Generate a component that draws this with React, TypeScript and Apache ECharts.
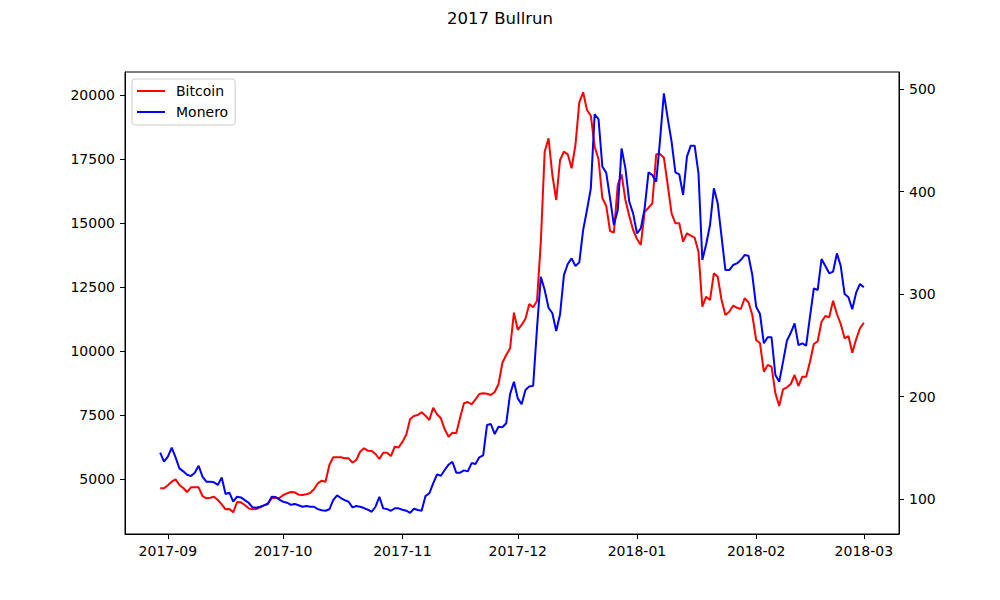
import React, { useEffect, useRef } from "react";
import * as echarts from "echarts";

const TITLE = "2017 Bullrun";
const START_DATE = "2017-08-30";
const SERIES_NAMES = ["Bitcoin", "Monero"];

const bitcoin = [
  4636, 4636, 4754, 4895, 4988, 4766, 4648, 4492, 4674, 4674,
  4674, 4336, 4245, 4271, 4310, 4180, 4010, 3815, 3828, 3698,
  4102, 4089, 3984, 3854, 3815, 3828, 3893, 3971, 4049, 4245,
  4270, 4260, 4375, 4441, 4492, 4480, 4387, 4375, 4402, 4453,
  4598, 4832, 4934, 4895, 5547, 5848, 5848, 5848, 5809, 5809,
  5637, 5742, 6066, 6199, 6105, 6094, 5977, 5781, 6027, 6027,
  5898, 6260, 6230, 6450, 6730, 7344, 7461, 7500, 7605, 7473,
  7305, 7785, 7527, 7371, 6941, 6652, 6809, 6785, 7395, 7957,
  8008, 7918, 8113, 8320, 8348, 8332, 8281, 8398, 8711, 9543,
  9844, 10105, 11496, 10830, 11016, 11260, 11836, 11707, 11953, 14270,
  17785, 18309, 16875, 15898, 17461, 17785, 17683, 17137, 18047, 19715,
  20105, 19414, 19191, 17980, 17500, 15965, 15676, 14688, 14621, 16484,
  16902, 15898, 15273, 14727, 14375, 14141, 15441, 15598, 15770, 17683,
  17695, 17551, 16484, 15379, 14988, 14988, 14270, 14598, 14504, 14426,
  13879, 11730, 12121, 11992, 13035, 12902, 11992, 11406, 11535, 11770,
  11691, 11641, 12059, 11902, 11406, 10430, 10301, 9191, 9453, 9387,
  8348, 7852, 8504, 8582, 8711, 9063, 8633, 8996, 8996, 9582,
  10273, 10379, 11145, 11367, 11316, 11965, 11445, 11055, 10496, 10586,
  9934, 10457, 10887, 11105,
];

const monero = [
  145.2, 136.4, 141.3, 150.1, 140.7, 129.9, 127.0, 123.7, 122.4, 125.7,
  132.5, 121.8, 116.9, 116.9, 116.3, 113.7, 121.1, 104.9, 106.2, 97.4,
  102.3, 101.6, 99.0, 96.4, 91.9, 91.5, 92.5, 93.8, 95.1, 102.3,
  102.0, 99.5, 97.3, 96.4, 94.4, 95.1, 93.9, 92.5, 93.2, 92.5,
  92.5, 90.2, 89.0, 88.6, 90.0, 99.0, 103.6, 101.0, 99.0, 97.4,
  91.9, 93.2, 92.5, 91.2, 89.6, 87.6, 92.5, 102.2, 90.9, 90.2,
  88.6, 90.9, 90.9, 89.6, 88.6, 86.6, 90.5, 89.3, 88.6, 102.9,
  105.6, 115.3, 124.1, 122.7, 128.3, 133.5, 136.4, 125.7, 125.7, 128.0,
  127.0, 135.1, 134.1, 140.7, 142.6, 172.2, 173.2, 163.4, 170.5, 170.0,
  173.9, 202.4, 214.4, 198.2, 192.4, 206.3, 209.9, 210.5, 266.5, 316.9,
  303.9, 286.6, 281.2, 263.9, 280.2, 318.5, 329.3, 334.8, 327.3, 330.9,
  362.4, 382.0, 403.1, 475.3, 470.7, 424.2, 418.4, 393.4, 367.3, 382.0,
  442.1, 422.6, 390.0, 378.7, 359.2, 364.1, 383.6, 418.7, 416.1, 409.6,
  450.2, 495.8, 471.4, 448.6, 418.7, 416.8, 396.6, 434.0, 444.7, 444.7,
  417.8, 333.2, 348.5, 367.3, 403.1, 388.5, 355.9, 323.4, 323.4, 328.3,
  329.9, 333.2, 338.0, 337.4, 318.5, 287.6, 280.5, 251.9, 257.8, 257.8,
  221.0, 214.4, 234.0, 254.4, 262.2, 271.4, 250.2, 251.9, 249.6, 277.9,
  305.6, 303.9, 334.1, 327.3, 320.2, 321.8, 339.7, 327.3, 300.0, 296.8,
  285.1, 301.3, 309.8, 306.5,
];

const xTickDates = ["2017-09-01", "2017-10-01", "2017-11-01", "2017-12-01", "2018-01-01", "2018-02-01", "2018-03-01"];
const xTickLabels = ["2017-09", "2017-10", "2017-11", "2017-12", "2018-01", "2018-02", "2018-03"];
const leftTicks = [5000, 7500, 10000, 12500, 15000, 17500, 20000];
const rightTicks = [100, 200, 300, 400, 500];

const DAY = 86400000;
const FONT = "DejaVu Sans";

export default function App() {
  const ref = useRef<HTMLDivElement>(null);

  useEffect(() => {
    document.body.style.margin = "0";
    if (!ref.current) return;
    const chart = echarts.init(ref.current, null, { renderer: "svg" });
    const start = Date.parse(START_DATE);
    const toPairs = (arr: number[]) => arr.map((v, i) => [start + i * DAY, v]);
    const first = start;
    const last = start + (bitcoin.length - 1) * DAY;
    const span = last - first;
    const xTicks = xTickDates.map((d) => Date.parse(d));

    chart.setOption({
      animation: false,
      backgroundColor: "#ffffff",
      title: {
        text: TITLE,
        left: "center",
        top: 5,
        textStyle: { fontFamily: FONT, fontSize: 16.5, fontWeight: "normal", color: "#000" },
      },
      legend: {
        data: SERIES_NAMES,
        orient: "vertical",
        left: 132,
        top: 79,
        padding: [5, 7, 6, 5],
        itemGap: 7,
        itemWidth: 28,
        itemHeight: 2,
        icon: "rect",
        borderColor: "#cccccc",
        borderWidth: 1,
        borderRadius: 3,
        backgroundColor: "rgba(255,255,255,0.8)",
        textStyle: { fontFamily: FONT, fontSize: 14, color: "#000", padding: [0, 0, 0, 6] },
      },
      grid: {
        left: 125,
        right: 101,
        top: 72,
        bottom: 66,
        show: true,
        borderColor: "#000",
        borderWidth: 1,
        backgroundColor: "transparent",
      },
      xAxis: {
        type: "value",
        min: first - 0.05 * span,
        max: last + 0.05 * span,
        splitLine: { show: false },
        axisLine: { show: true, lineStyle: { color: "#000", width: 1 } },
        axisTick: { show: true, length: 5, inside: false, lineStyle: { color: "#000" }, customValues: xTicks },
        axisLabel: {
          customValues: xTicks,
          margin: 10,
          color: "#000",
          fontFamily: FONT,
          fontSize: 14,
          formatter: (v: number) => {
            const i = xTicks.indexOf(v);
            return i >= 0 ? xTickLabels[i] : "";
          },
        },
      },
      yAxis: [
        {
          type: "value",
          position: "left",
          min: 2852,
          max: 20898,
          splitLine: { show: false },
          axisLine: { show: true, lineStyle: { color: "#000", width: 1 } },
          axisTick: { show: true, length: 5, lineStyle: { color: "#000" }, customValues: leftTicks },
          axisLabel: {
            customValues: leftTicks,
            margin: 10,
            color: "#000",
            fontFamily: FONT,
            fontSize: 14,
            formatter: (v: number) => String(v),
          },
        },
        {
          type: "value",
          position: "right",
          min: 65.9,
          max: 516.6,
          splitLine: { show: false },
          axisLine: { show: true, lineStyle: { color: "#000", width: 1 } },
          axisTick: { show: true, length: 5, lineStyle: { color: "#000" }, customValues: rightTicks },
          axisLabel: {
            customValues: rightTicks,
            margin: 10,
            color: "#000",
            fontFamily: FONT,
            fontSize: 14,
            formatter: (v: number) => String(v),
          },
        },
      ],
      series: [
        {
          name: SERIES_NAMES[0],
          type: "line",
          yAxisIndex: 0,
          data: toPairs(bitcoin),
          showSymbol: false,
          symbol: "none",
          lineStyle: { color: "#ff0000", width: 2 },
          itemStyle: { color: "#ff0000" },
        },
        {
          name: SERIES_NAMES[1],
          type: "line",
          yAxisIndex: 1,
          data: toPairs(monero),
          showSymbol: false,
          symbol: "none",
          lineStyle: { color: "#0000ff", width: 2 },
          itemStyle: { color: "#0000ff" },
        },
      ],
    });
    return () => chart.dispose();
  }, []);

  return <div ref={ref} style={{ width: 1000, height: 600 }} />;
}
